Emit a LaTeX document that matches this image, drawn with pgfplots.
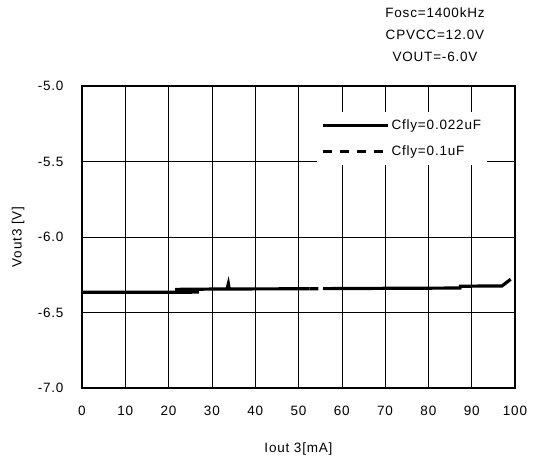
\documentclass[border=0pt]{standalone}
\usepackage{pgfplots}
\pgfplotsset{compat=1.18}
\usepackage{fontspec}
\setmainfont[LetterSpace=6]{Liberation Sans}
\begin{document}
\begin{tikzpicture}
\begin{axis}[
  scale only axis,
  width=433pt, height=302pt,
  at={(0,0)}, anchor=south west,
  xmin=0, xmax=100, ymin=-7, ymax=-5,
  xtick={0,10,...,100},
  ytick={-7,-6.5,-6,-5.5,-5},
  y tick label style={/pgf/number format/fixed, /pgf/number format/fixed zerofill, /pgf/number format/precision=1, xshift=-15pt},
  x tick label style={yshift=-15pt},
  /pgf/number format/assume math mode=true,
  tick label style={font=\fontsize{13.5}{15}\selectfont},
  label style={font=\fontsize{13.5}{15}\selectfont},
  grid=major,
  major grid style={black, line width=0.6pt},
  major tick length=0pt,
  axis line style={black, line width=1.2pt},
  xlabel={Iout 3[mA]},
  ylabel={Vout3 [V]},
  xlabel style={at={(0.5,0)}, anchor=north, yshift=-51pt},
  ylabel style={at={(0,0.5)}, anchor=south, yshift=54pt},
  unbounded coords=jump,
  legend style={at={(0.543,0.915)}, anchor=north west, draw=none, fill=white,
    font=\fontsize{13.5}{15}\selectfont, row sep=11pt, inner xsep=4pt, inner ysep=6pt},
  legend cell align=left,
  legend image code/.code={\draw[#1] (0pt,0pt) -- (65pt,0pt);},
]
\addplot[black, line width=3.2pt] coordinates {
 (0,-6.366) (10,-6.366) (20,-6.366) (27,-6.365) (27,nan)
 (21.5,-6.347) (33.5,-6.344) (33.8,-6.31) (34.0,-6.344) (52.5,-6.343)
};
\addlegendentry{Cfly=0.022uF}
\addplot[black, line width=3.2pt, dash pattern=on 9pt off 8pt] coordinates {
 (52.5,-6.343) (55.7,-6.342)
};
\addlegendentry{Cfly=0.1uF}
\addplot[black, line width=3.2pt, forget plot] coordinates {
 (55.7,-6.342) (70,-6.340) (87.3,-6.338) (87.4,-6.326) (97,-6.324) (99,-6.28)
};
\end{axis}
\node[font=\fontsize{13.5}{15}\selectfont] at (353pt,375pt) {Fosc=1400kHz};
\node[font=\fontsize{13.5}{15}\selectfont] at (353pt,353pt) {CPVCC=12.0V};
\node[font=\fontsize{13.5}{15}\selectfont] at (353pt,331pt) {VOUT=-6.0V};
\pgfresetboundingbox
\path (-82pt,-77pt) rectangle (452pt,388pt);
\end{tikzpicture}
\end{document}
